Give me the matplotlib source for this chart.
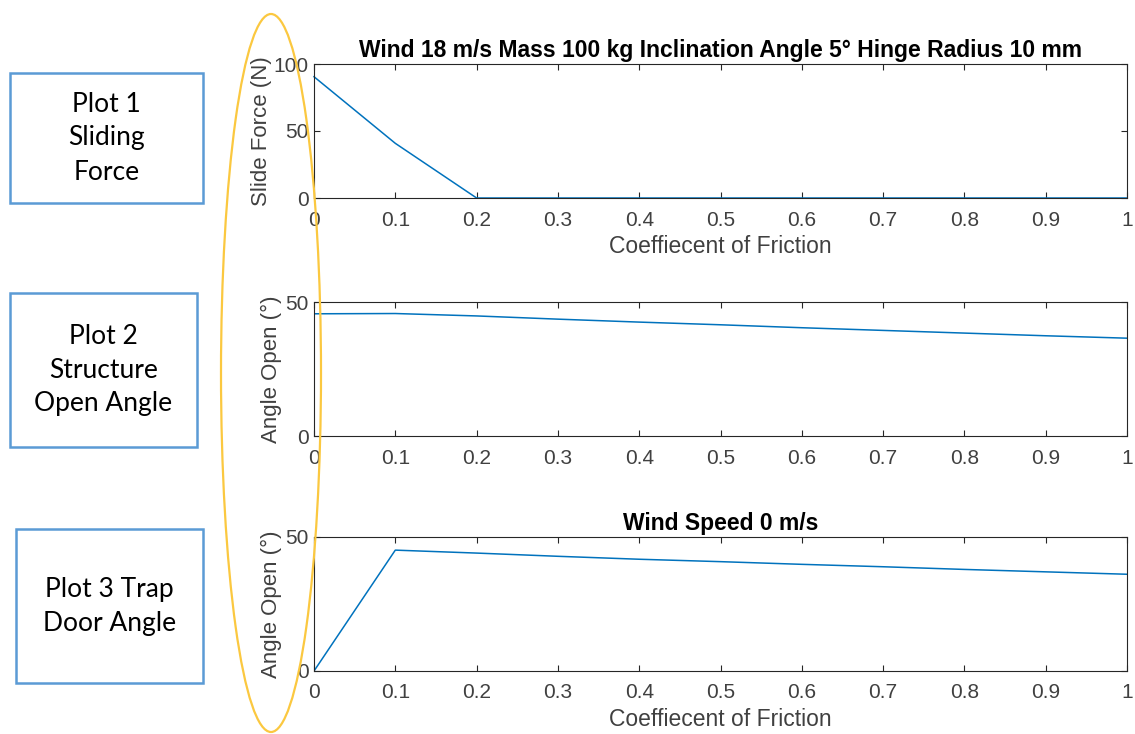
import matplotlib.pyplot as plt
from matplotlib.patches import Ellipse, Rectangle

friction = [0.0, 0.1, 0.2, 0.3, 0.4, 0.5, 0.6, 0.7, 0.8, 0.9, 1.0]
slide_force = [90.5, 40.8, 0, 0, 0, 0, 0, 0, 0, 0, 0]
structure_angle = [45.6, 45.7, 44.8, 43.6, 42.5, 41.5, 40.4, 39.4, 38.4, 37.4, 36.5]
trapdoor_angle = [0, 45.1, 44.0, 42.8, 41.7, 40.8, 39.8, 38.9, 37.9, 37.0, 36.1]

x_ticks = [0, 0.1, 0.2, 0.3, 0.4, 0.5, 0.6, 0.7, 0.8, 0.9, 1]
x_ticklabels = ['0', '0.1', '0.2', '0.3', '0.4', '0.5', '0.6', '0.7', '0.8', '0.9', '1']

box_labels = ['Plot 1\nSliding\nForce', 'Plot 2\nStructure\nOpen Angle', 'Plot 3 Trap\nDoor Angle']

title_top = 'Wind 18 m/s Mass 100 kg Inclination Angle 5\u00b0 Hinge Radius 10 mm'
title_bottom = 'Wind Speed 0 m/s'
xlabel = 'Coeffiecent of Friction'

line_color = '#0072BD'
axis_color = '#262626'
tick_color = '#404040'

plt.rcParams['font.family'] = ['Liberation Sans', 'DejaVu Sans']

W, H = 1135, 734
fig = plt.figure(figsize=(W / 100, H / 100), dpi=100)


def add_panel(top, bottom):
    # pixel rows -> figure fraction
    return fig.add_axes([314 / W, 1 - bottom / H, 813 / W, (bottom - top) / H])


def style_axes(ax, ymax, yticks):
    ax.set_xlim(0, 1)
    ax.set_ylim(0, ymax)
    ax.set_xticks(x_ticks)
    ax.set_xticklabels(x_ticklabels)
    ax.set_yticks(yticks)
    ax.tick_params(direction='in', top=True, right=True, length=4,
                   width=0.8, color=axis_color, labelcolor=tick_color,
                   labelsize=15)
    ax.tick_params(axis='x', pad=9)
    ax.tick_params(axis='y', pad=4)
    for s in ax.spines.values():
        s.set_color(axis_color)
        s.set_linewidth(0.8)


ax1 = add_panel(64, 198)
ax1.plot(friction, slide_force, color=line_color, lw=1.1, clip_on=False)
style_axes(ax1, 100, [0, 50, 100])
ax1.set_title(title_top, fontsize=16.5, fontweight='bold', pad=5)
ax1.set_ylabel('Slide Force (N)', fontsize=16, color=tick_color, labelpad=1)
ax1.set_xlabel(xlabel, fontsize=16.5, color=tick_color, labelpad=4)

ax2 = add_panel(302, 436)
ax2.plot(friction, structure_angle, color=line_color, lw=1.1)
style_axes(ax2, 50, [0, 50])
ax2.set_ylabel('Angle Open (\u00b0)', fontsize=16, color=tick_color, labelpad=2)

ax3 = add_panel(537, 671)
ax3.plot(friction, trapdoor_angle, color=line_color, lw=1.1)
style_axes(ax3, 50, [0, 50])
ax3.set_title(title_bottom, fontsize=16.5, fontweight='bold', pad=5)
ax3.set_ylabel('Angle Open (\u00b0)', fontsize=16, color=tick_color, labelpad=2)
ax3.set_xlabel(xlabel, fontsize=16.5, color=tick_color, labelpad=4)

# overlay in pixel coordinates for the annotation boxes and the ellipse
over = fig.add_axes([0, 0, 1, 1], facecolor='none')
over.set_xlim(0, W)
over.set_ylim(H, 0)
over.set_axis_off()

boxes = [(10, 73, 193, 130), (10, 293, 187, 154), (16, 529, 187, 154)]
for (bx, by, bw, bh), label in zip(boxes, box_labels):
    over.add_patch(Rectangle((bx, by), bw, bh, fill=False,
                             edgecolor='#5B9BD5', lw=1.8))
    over.text(bx + bw / 2, by + bh / 2, label, ha='center', va='center',
              fontsize=19, family=['Lato', 'DejaVu Sans'], linespacing=1.45,
              color='black')

over.add_patch(Ellipse((271, 373), 100, 718, fill=False,
                       edgecolor='#FBC840', lw=1.6))

fig.savefig('out.png', dpi=100)
